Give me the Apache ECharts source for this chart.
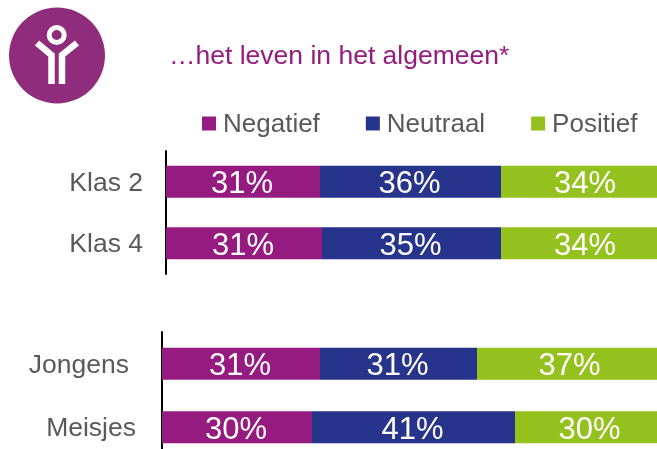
<!DOCTYPE html>
<html><head><meta charset="utf-8">
<style>html,body{margin:0;padding:0;background:#fff}#c{width:657px;height:449px}</style>
<script src="https://cdn.jsdelivr.net/npm/echarts@6/dist/echarts.min.js"></script>
</head><body><div id="c"></div>
<script>
const seriesNames = ['Negatief', 'Neutraal', 'Positief'];
const colors = ['#951B81', '#27348B', '#95C11F'];
const klasCats = ['Klas 2', 'Klas 4'];
const klasNegatief = [30.8, 31.2];
const klasNeutraal = [36.2, 35.8];
const klasPositief = [34, 34];
const klasLabels = [['31%', '31%'], ['36%', '35%'], ['34%', '34%']];
const sekseCats = ['Jongens', 'Meisjes'];
const sekseNegatief = [31.6, 30];
const sekseNeutraal = [31.4, 40.6];
const seksePositief = [37.4, 30.2];
const sekseLabels = [['31%', '30%'], ['31%', '41%'], ['37%', '30%']];

const FONT = '"Liberation Sans", Arial, sans-serif';
const GREY = '#595959';
function mk(name, i, data, labels, grid) {
  return {
    name, type: 'bar', stack: 's' + grid, xAxisIndex: grid, yAxisIndex: grid,
    barWidth: 32, data, itemStyle: { color: colors[i] },
    label: {
      show: true, position: 'inside', offset: [-1, 3], color: '#fff', fontFamily: FONT, fontSize: 31,
      formatter: p => labels[i][p.dataIndex]
    }
  };
}
const yAxis = (cats, grid, margin) => ({
  type: 'category', gridIndex: grid, inverse: true, data: cats,
  axisLine: { lineStyle: { color: '#000', width: 2 } }, axisTick: { show: false },
  axisLabel: {
    color: GREY, fontFamily: FONT, fontSize: 26.5, margin, padding: [3, 0, 0, 0],
    formatter: v => v === 'Jongens' ? '{j|' + v + '}' : v,
    rich: { j: { color: GREY, fontFamily: FONT, fontSize: 26.5, padding: [0, 7, 0, 0] } }
  }
});
const xAxis = g => ({ type: 'value', gridIndex: g, min: 0, max: 120, show: false });
const chart = echarts.init(document.getElementById('c'), null, { renderer: 'canvas' });
chart.setOption({
  animation: false, backgroundColor: '#fff',
  title: {
    text: '…het leven in het algemeen*', left: 164, top: 38,
    textStyle: { color: '#951B81', fontFamily: FONT, fontSize: 26.5, fontWeight: 'normal' }
  },
  legend: {
    data: seriesNames, left: 197, top: 107, itemWidth: 14, itemHeight: 14, itemGap: 46, icon: 'rect',
    formatter: n => n === 'Negatief' ? '{a|' + n + '}' : n,
    textStyle: {
      color: GREY, fontFamily: FONT, fontSize: 26, padding: [3, 0, 0, 2],
      rich: { a: { color: GREY, fontFamily: FONT, fontSize: 26, padding: [0, 3, 0, 0] } }
    }
  },
  grid: [
    { left: 166, top: 151, width: 600, height: 123, outerBoundsMode: 'none' },
    { left: 162, top: 332, width: 600, height: 127, outerBoundsMode: 'none' }
  ],
  xAxis: [xAxis(0), xAxis(1)],
  yAxis: [yAxis(klasCats, 0, 23), yAxis(sekseCats, 1, 26)],
  series: [
    mk(seriesNames[0], 0, klasNegatief, klasLabels, 0),
    mk(seriesNames[1], 1, klasNeutraal, klasLabels, 0),
    mk(seriesNames[2], 2, klasPositief, klasLabels, 0),
    mk(seriesNames[0], 0, sekseNegatief, sekseLabels, 1),
    mk(seriesNames[1], 1, sekseNeutraal, sekseLabels, 1),
    mk(seriesNames[2], 2, seksePositief, sekseLabels, 1)
  ],
  graphic: [
    { type: 'circle', shape: { cx: 57, cy: 55.5, r: 48 }, style: { fill: '#8F2D7C' } },
    { type: 'circle', shape: { cx: 56.7, cy: 35, r: 7.5 }, style: { fill: 'none', stroke: '#fff', lineWidth: 5 } },
    { type: 'polyline', shape: { points: [[37, 43], [51.5, 55], [51.5, 84]] }, style: { fill: 'none', stroke: '#fff', lineWidth: 6.5 } },
    { type: 'polyline', shape: { points: [[77, 43], [62, 55], [62, 84]] }, style: { fill: 'none', stroke: '#fff', lineWidth: 6.5 } }
  ]
});
</script></body></html>
